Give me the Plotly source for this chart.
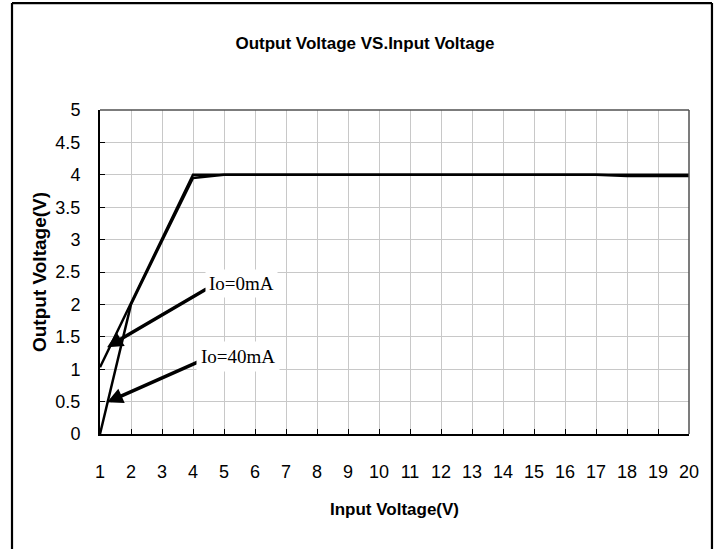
import plotly.graph_objects as go

# ---- data ----
input_voltage = list(range(1, 21))
vout_0mA = [1.03, 2.02, 3.01, 4.0, 4.0, 4.0, 4.0, 4.0, 4.0, 4.0,
            4.0, 4.0, 4.0, 4.0, 4.0, 4.0, 4.0, 4.0, 4.0, 4.0]
vout_40mA = [0.0, 2.0, 2.98, 3.95, 4.0, 4.0, 4.0, 4.0, 4.0, 4.0,
             4.0, 4.0, 4.0, 4.0, 4.0, 4.0, 4.0, 3.98, 3.98, 3.98]
x_ticks = list(range(1, 21))
y_ticks = [0, 0.5, 1, 1.5, 2, 2.5, 3, 3.5, 4, 4.5, 5]
y_tick_labels = ["0", "0.5", "1", "1.5", "2", "2.5", "3", "3.5", "4", "4.5", "5"]

SANS = "Liberation Sans, Arial, sans-serif"
SERIF = "Liberation Serif, Times New Roman, serif"

fig = go.Figure()
fig.add_trace(go.Scatter(x=input_voltage, y=vout_0mA, mode="lines",
                         line=dict(color="black", width=2.5), name="Io=0mA",
                         showlegend=False))
fig.add_trace(go.Scatter(x=input_voltage, y=vout_40mA, mode="lines",
                         line=dict(color="black", width=2.5), name="Io=40mA",
                         showlegend=False))

# arrows (tip at x,y ; tail at ax,ay)
fig.add_annotation(x=1.23, y=1.34, ax=4.48, ay=2.25, axref="x", ayref="y",
                   xref="x", yref="y", text="", showarrow=True,
                   arrowhead=2, arrowsize=0.9, arrowwidth=3.5, arrowcolor="black")
fig.add_annotation(x=1.23, y=0.49, ax=4.29, ay=1.14, axref="x", ayref="y",
                   xref="x", yref="y", text="", showarrow=True,
                   arrowhead=2, arrowsize=0.9, arrowwidth=3.5, arrowcolor="black")
# labels
fig.add_annotation(x=5.55, y=2.33, xref="x", yref="y", text="Io=0mA",
                   showarrow=False, bgcolor="white", borderpad=3,
                   font=dict(family=SERIF, size=19, color="black"))
fig.add_annotation(x=5.45, y=1.19, xref="x", yref="y", text="Io=40mA",
                   showarrow=False, bgcolor="white", borderpad=4,
                   font=dict(family=SERIF, size=19, color="black"))

# outer frame (left, top, right sides)
frame = dict(color="black", width=2.2)
fig.add_shape(type="line", xref="paper", yref="paper",
              x0=-0.1494, x1=-0.1494, y0=-0.5, y1=1.330, line=frame)
fig.add_shape(type="line", xref="paper", yref="paper",
              x0=-0.1494, x1=1.039, y0=1.330, y1=1.330, line=frame)
fig.add_shape(type="line", xref="paper", yref="paper",
              x0=1.039, x1=1.039, y0=-0.5, y1=1.330, line=frame)
# top / right plot borders (grey)
fig.add_shape(type="line", xref="paper", yref="paper", x0=0, x1=1, y0=1, y1=1,
              line=dict(color="#505050", width=1.5))
fig.add_shape(type="line", xref="paper", yref="paper", x0=1, x1=1, y0=0, y1=1,
              line=dict(color="#505050", width=1.5))

fig.update_layout(
    width=717, height=549,
    margin=dict(l=100, r=28, t=110, b=115),
    paper_bgcolor="white", plot_bgcolor="white",
    title=dict(text="<b>Output Voltage VS.Input Voltage</b>",
               x=365 / 717, xref="container", xanchor="center",
               y=1 - 43 / 549, yref="container", yanchor="middle",
               font=dict(family=SANS, size=17, color="black")),
    xaxis=dict(range=[1, 20], tickvals=x_ticks, ticks="inside", ticklen=5,
               tickcolor="black", showline=True, linecolor="black", linewidth=2,
               showgrid=True, gridcolor="#c8c8c8", gridwidth=1, zeroline=False,
               tickfont=dict(family=SANS, size=18, color="black"),
               ticklabelstandoff=20,
               title=dict(text="<b>Input Voltage(V)</b>", standoff=23,
                          font=dict(family=SANS, size=17, color="black"))),
    yaxis=dict(range=[0, 5], tickvals=y_ticks, ticktext=y_tick_labels,
               ticks="inside", ticklen=5, tickcolor="black",
               showline=True, linecolor="black", linewidth=2,
               showgrid=True, gridcolor="#c8c8c8", gridwidth=1, zeroline=False,
               tickfont=dict(family=SANS, size=18, color="black"),
               ticklabelstandoff=14,
               title=dict(text="<b>Output Voltage(V)</b>", standoff=4,
                          font=dict(family=SANS, size=19, color="black"))),
)

fig.write_html("out.html",
               config={"displayModeBar": False},
               post_script="document.body.style.margin='0px';")
